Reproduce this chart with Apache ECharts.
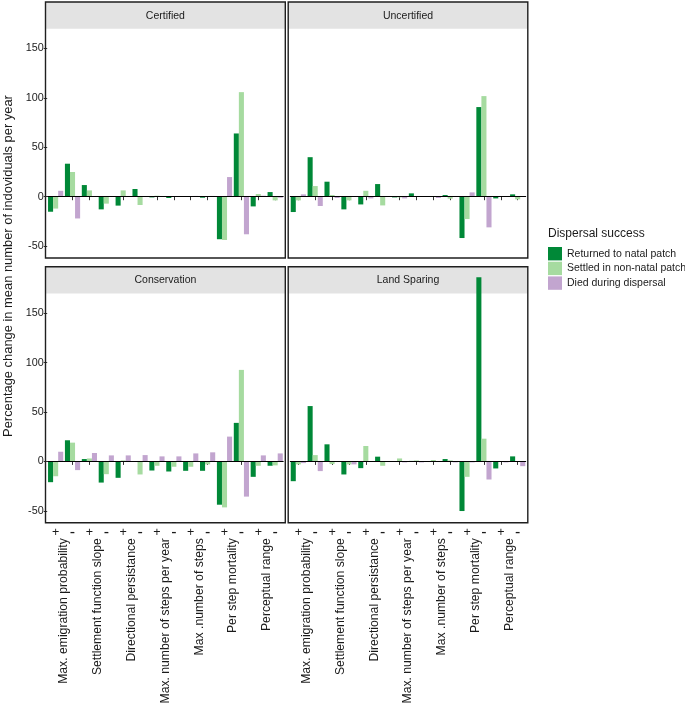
<!DOCTYPE html>
<html><head><meta charset="utf-8">
<script src="https://cdn.jsdelivr.net/npm/echarts/dist/echarts.min.js"></script>
<style>html,body{margin:0;padding:0;background:#fff}#c{width:685px;height:707px}</style>
</head><body><div id="c"></div>
<script>
// ---------------- data ----------------
const categories = ['+','-','+','-','+','-','+','-','+','-','+','-','+','-'];
const groupNames = ['Max. emigration probability','Settlement function slope','Directional persistance','Max. number of steps per year','Max .number of steps','Per step mortality','Perceptual range'];
const facetNames = ['Certified','Uncertified','Conservation','Land Sparing'];
const seriesNames = ['Returned to natal patch','Settled in non-natal patch','Died during dispersal'];
const yTicks = [-50, 0, 50, 100, 150];

const certifiedReturned = [-15.2, 33.4, 11.8, -12.8, -9, 7.8, -0.7, -1.3, 0, -1, -43, 64, -9.8, 4.7];
const certifiedSettled  = [-12, 25, 6.4, -7, 6.4, -8.4, 1, 0, 0, 0, -43.8, 105.8, 2.7, -3.7];
const certifiedDied     = [6, -22, 0.4, 0, 0, 0, 0, 0, 0.8, 0.8, 19.9, -38, 1, -1];

const uncertifiedReturned = [-15.5, 40, 15.2, -12.8, -7.8, 12.8, -0.7, 3.4, 0, 1.7, -41.8, 90.7, -1.7, 2.4];
const uncertifiedSettled  = [-3.7, 10.8, 1.7, -3.7, 6, -8.8, -0.7, 0, 0, -2, -22.6, 101.8, 0, -2.7];
const uncertifiedDied     = [2.4, -9.4, -1.3, 0, -1.7, 0, -1.7, 0, -1.3, 0, 4.4, -31, 0, 0];

const conservationReturned = [-21, 21.4, 2.4, -21.4, -16.6, 0, -9.2, -10.2, -9.5, -9.5, -43.8, 39, -15.6, -4.4];
const conservationSettled  = [-15, 19, 3, -12.9, 1, -13.2, -4.4, -5.4, -5.4, -3, -46.5, 92.6, -4.4, -4];
const conservationDied     = [9.8, -8.8, 8.5, 6.1, 6.1, 6.4, 5.1, 5.1, 8.1, 9.2, 25.1, -35.6, 6.1, 8.1];

const landSparingReturned = [-20, 56, 17.3, -13.2, -6.8, 4.8, 0, 0.5, 0, 2.4, -50.2, 186.3, -7.1, 5.1];
const landSparingSettled  = [-3, 6.4, -2.7, -3, 15.6, -4.4, 3, 1, 1.4, 1, -15.6, 23, 0, 0];
const landSparingDied     = [-1.7, -9.8, 0, -3, -0.5, 0, -1, -1, 0, -1, -1, -18.3, -1, -4.8];

// ---------------- layout / style ----------------
const facetData = [
  [certifiedReturned, certifiedSettled, certifiedDied],
  [uncertifiedReturned, uncertifiedSettled, uncertifiedDied],
  [conservationReturned, conservationSettled, conservationDied],
  [landSparingReturned, landSparingSettled, landSparingDied]
];
const colors = ['#008837', '#a6dba0', '#c2a5cf'];
const FONT = "'Liberation Sans', Arial, Helvetica, sans-serif";
const TXT = '#1a1a1a';
const panels = [
  {x: 45.5, y: 2, w: 239.8, h: 256},
  {x: 288.2, y: 2, w: 239.6, h: 256},
  {x: 45.5, y: 266.7, w: 239.8, h: 256},
  {x: 288.2, y: 266.7, w: 239.6, h: 256}
];
const stripH = 26.8;

const grid = [], xAxis = [], yAxis = [], series = [], graphic = [];
panels.forEach((p, i) => {
  const unit = p.w / 14.2;
  grid.push({left: p.x + unit * 0.1, top: p.y, width: unit * 14, height: p.h, containLabel: false});
  const bottomRow = i >= 2;
  const xi = xAxis.length;
  xAxis.push({
    type: 'category', gridIndex: i, data: categories,
    axisLine: {show: false},
    axisTick: {show: true, alignWithLabel: true, length: 3.5, lineStyle: {color: '#333', width: 1}},
    axisLabel: {show: bottomRow, interval: 0, margin: 3, fontSize: 12.5, color: TXT, fontFamily: FONT,
      formatter: v => v === '-' ? '{d|-}' : '{p|+}',
      rich: {
        p: {fontSize: 12.5, color: TXT, fontFamily: FONT, height: 14, verticalAlign: 'middle'},
        d: {fontSize: 16, color: TXT, fontFamily: FONT, height: 14, verticalAlign: 'middle', padding: [0, 0, 3, 0]}
      }}
  });
  if (bottomRow) {
    xAxis.push({
      type: 'category', gridIndex: i, data: groupNames, position: 'bottom',
      axisLine: {show: false}, axisTick: {show: false},
      axisLabel: {rotate: 90, interval: 0, margin: 15.5, fontSize: 12.2, color: TXT, fontFamily: FONT}
    });
  }
  const leftCol = i % 2 === 0;
  yAxis.push({
    type: 'value', gridIndex: i, min: -62, max: 197,
    splitLine: {show: false}, axisLine: {show: false},
    axisTick: {show: leftCol, length: 3.5, customValues: yTicks, lineStyle: {color: '#333'}},
    axisLabel: {show: leftCol, customValues: yTicks, margin: 3.5, fontSize: 10.8, color: TXT, fontFamily: FONT}
  });
  facetData[i].forEach((vals, s) => {
    const ser = {
      type: 'bar', name: seriesNames[s], xAxisIndex: xi, yAxisIndex: i, data: vals,
      barGap: '0%', barCategoryGap: '10%', itemStyle: {color: colors[s]}, silent: true
    };
    if (s === 2) {
      ser.markLine = {silent: true, symbol: 'none', animation: false,
        data: [{yAxis: 0}], label: {show: false},
        lineStyle: {color: '#000', width: 1, type: 'solid'}};
    }
    series.push(ser);
  });
  // strip background
  graphic.push({type: 'rect', z: 0, silent: true,
    shape: {x: p.x, y: p.y, width: p.w, height: stripH},
    style: {fill: '#e3e3e3'}});
  graphic.push({type: 'text', z: 5, silent: true, x: p.x + p.w / 2, y: p.y + stripH / 2 + 0.5,
    style: {text: facetNames[i], fill: TXT, font: '10.5px ' + FONT, textAlign: 'center', textVerticalAlign: 'middle'}});
  // panel border
  graphic.push({type: 'rect', z: 100, silent: true,
    shape: {x: p.x, y: p.y, width: p.w, height: p.h},
    style: {fill: 'none', stroke: '#1f1f1f', lineWidth: 1.4}});
});
graphic.push({type: 'text', z: 5, silent: true, x: 8, y: 266, rotation: Math.PI / 2,
  style: {text: 'Percentage change in mean number of indoviduals per year', fill: TXT,
    font: '12.9px ' + FONT, textAlign: 'center', textVerticalAlign: 'middle'}});

const chart = echarts.init(document.getElementById('c'), null, {renderer: 'canvas'});
chart.setOption({
  animation: false,
  backgroundColor: '#fff',
  textStyle: {fontFamily: FONT},
  title: {text: 'Dispersal success', left: 548, top: 228, padding: 0,
    textStyle: {fontSize: 12, fontWeight: 'normal', color: TXT, fontFamily: FONT}},
  legend: {data: seriesNames, orient: 'vertical', left: 548, top: 247, padding: 0,
    itemWidth: 14, itemHeight: 13.4, itemGap: 1.3, icon: 'rect', selectedMode: false,
    textStyle: {fontSize: 10.5, color: TXT, fontFamily: FONT}},
  grid, xAxis, yAxis, series, graphic
});
</script></body></html>
